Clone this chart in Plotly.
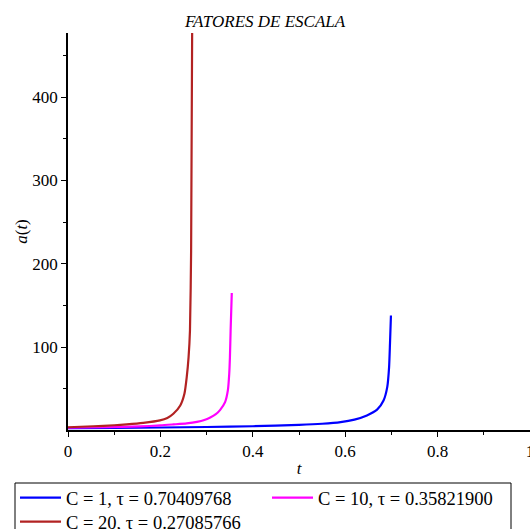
import plotly.graph_objects as go

# ---- data ----
t_c1 = [0, 0.1, 0.2, 0.3, 0.4, 0.5, 0.55, 0.59, 0.62, 0.647, 0.669, 0.683, 0.691, 0.695, 0.697, 0.699]
a_c1 = [2.6, 3.0, 3.5, 4.1, 5.0, 6.6, 8.0, 10.0, 13.0, 18.0, 25, 36, 52, 76, 105, 138]

t_c10 = [0, 0.08, 0.156, 0.2, 0.228, 0.257, 0.279, 0.295, 0.308, 0.320, 0.329, 0.340, 0.346, 0.349, 0.3505, 0.352, 0.3545]
a_c10 = [3.2, 3.8, 4.8, 6.0, 7.2, 8.5, 10.3, 12.5, 15.6, 19.5, 24.4, 34, 48, 68, 88, 120, 165]

t_c20 = [0, 0.055, 0.1, 0.127, 0.163, 0.199, 0.215, 0.228, 0.243, 0.252, 0.257, 0.261, 0.264, 0.2665, 0.2687]
a_c20 = [3.8, 5.0, 6.2, 7.2, 9.0, 12, 15, 20, 30, 44, 64, 88, 120, 216, 477]

names = ["C = 1, τ = 0.70409768", "C = 10, τ = 0.35821900", "C = 20, τ = 0.27085766"]
colors = ["#0000FF", "#FF00FF", "#B22222"]
legend_rows = ["legend", "legend", "legend2"]

x_ticks = [0, 0.2, 0.4, 0.6, 0.8, 1]
x_tick_text = ["0", "0.2", "0.4", "0.6", "0.8", "1"]
y_ticks = [100, 200, 300, 400]
y_tick_text = ["100", "200", "300", "400"]

FONT = "Times New Roman, Liberation Serif, serif"

# plot area in pixels: x 68..530, y 33..430
PL, PW, PT, PH = 68, 462, 33, 397


def px_x(p):
    return (p - PL) / PW


def px_y(p):
    return (PT + PH - p) / PH


fig = go.Figure()
for tt, aa, nm, col, lg in zip([t_c1, t_c10, t_c20], [a_c1, a_c10, a_c20], names, colors, legend_rows):
    fig.add_trace(go.Scatter(x=tt, y=aa, mode="lines", name=nm, legend=lg,
                             line=dict(color=col, width=2.2, shape="spline", smoothing=0.6)))

legend_common = dict(orientation="h", xanchor="left", yanchor="top",
                     borderwidth=0, bgcolor="rgba(0,0,0,0)",
                     font=dict(family=FONT, size=18.5, color="black"),
                     entrywidth=196, entrywidthmode="pixels", tracegroupgap=0,
                     itemwidth=41)

fig.update_layout(
    width=530, height=529,
    paper_bgcolor="white", plot_bgcolor="white",
    margin=dict(l=PL, r=0, t=PT, b=529 - PT - PH, autoexpand=False),
    font=dict(family=FONT, size=17, color="black"),
    title=dict(text="<i>FATORES DE ESCALA</i>", x=0.5, xref="container", xanchor="center",
               y=0.961, yref="container", yanchor="middle",
               font=dict(family=FONT, size=17, color="black")),
    showlegend=True,
    legend=dict(x=px_x(15), y=px_y(479), **legend_common),
    legend2=dict(x=px_x(15), y=px_y(503), **legend_common),
    shapes=[dict(type="rect", xref="paper", yref="paper",
                 x0=px_x(15), x1=px_x(511), y0=px_y(483), y1=px_y(540),
                 line=dict(color="black", width=1), fillcolor="rgba(0,0,0,0)", layer="below")],
)

fig.update_xaxes(
    range=[0, 1], showgrid=False, zeroline=False,
    showline=True, linecolor="black", linewidth=1.5,
    tickmode="array", tickvals=x_ticks, ticktext=x_tick_text,
    ticks="outside", ticklen=5, tickwidth=1, tickcolor="black",
    ticklabeloverflow="allow",
    minor=dict(ticks="outside", dtick=0.1, ticklen=3, tickwidth=1, tickcolor="black", showgrid=False),
    tickfont=dict(family=FONT, size=17),
    title=dict(text="<i>t</i>", standoff=2, font=dict(family=FONT, size=17)),
    automargin=False,
)
fig.update_yaxes(
    range=[0.5, 477], showgrid=False, zeroline=False,
    showline=True, linecolor="black", linewidth=1.5,
    tickmode="array", tickvals=y_ticks, ticktext=y_tick_text,
    ticks="outside", ticklen=5, tickwidth=1, tickcolor="black",
    minor=dict(ticks="outside", tickvals=[50, 150, 250, 350, 450], ticklen=3, tickwidth=1,
               tickcolor="black", showgrid=False),
    tickfont=dict(family=FONT, size=17),
    title=dict(text="<i>a</i>(<i>t</i>)", standoff=0, font=dict(family=FONT, size=17)),
    automargin=False,
)

fig.write_html("out.html", config={"displayModeBar": False},
               post_script="document.body.style.margin='0px';document.body.style.overflow='hidden';")
